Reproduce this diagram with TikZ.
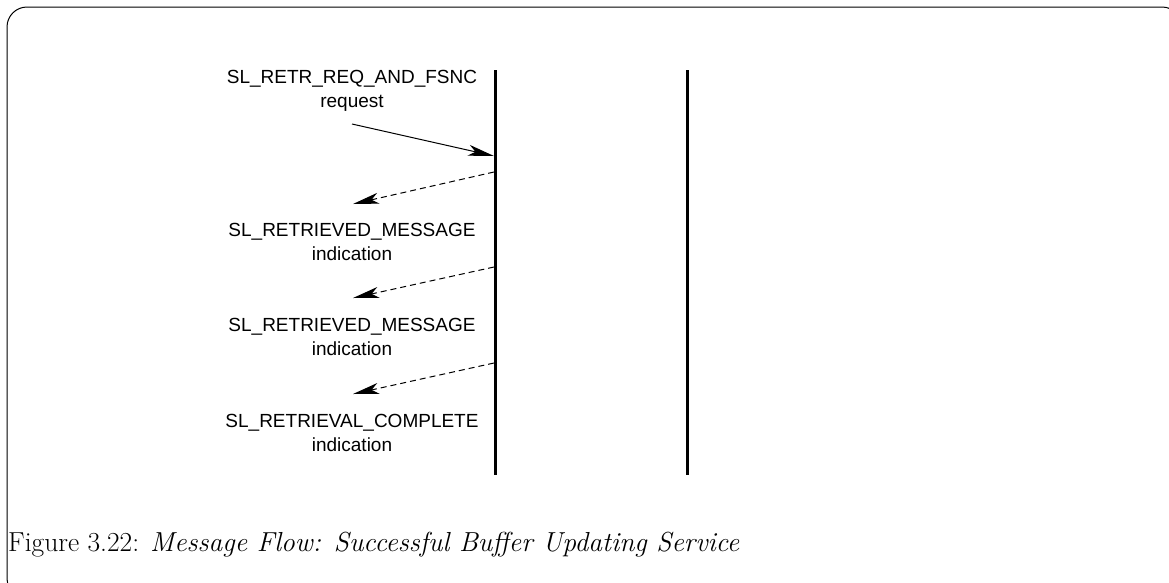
\documentclass[tikz,border=0pt]{standalone}
\usepackage{fontspec}
\newfontfamily\diagfont{Liberation Sans}
\usetikzlibrary{arrows.meta}
\tikzset{
  lbl/.style={font=\diagfont\fontsize{19}{24}\selectfont, align=center, inner sep=0pt},
  lifeline/.style={line width=3pt},
  msg/.style={line width=1pt, -{Stealth[length=26pt, width=11pt, inset=7pt]}},
  reply/.style={msg, dash pattern=on 6pt off 4pt},
  frame/.style={line width=1pt, rounded corners=20pt}
}
\begin{document}
\begin{tikzpicture}[x=1pt,y=-1pt]
\useasboundingbox (0,0) rectangle (1169,582);
\clip (0,0) rectangle (1169,582);
\draw[frame] (7,7) rectangle (1182,598);
% lifelines
\coordinate (l1top) at (495,70);
\coordinate (l1bot) at (495,475);
\coordinate (l2top) at (687,70);
\coordinate (l2bot) at (687,475);
\draw[lifeline] (l1top) -- (l1bot);
\draw[lifeline] (l2top) -- (l2bot);
% labels
\node[lbl] (req) at (352,91) {SL\_RETR\_REQ\_AND\_FSNC\\request};
\node[lbl] (ind1) at (352,242) {SL\_RETRIEVED\_MESSAGE\\indication};
\node[lbl] (ind2) at (352,337) {SL\_RETRIEVED\_MESSAGE\\indication};
\node[lbl] (ind3) at (352,433) {SL\_RETRIEVAL\_COMPLETE\\indication};
% message endpoints
\coordinate (a0) at (352,124);
\coordinate (b0) at (494,156);
\coordinate (a1) at (494,172);
\coordinate (b1) at (353,204);
\coordinate (a2) at (494,267);
\coordinate (b2) at (353,298);
\coordinate (a3) at (494,363);
\coordinate (b3) at (353,394);
\draw[msg] (a0) -- (b0);
\draw[reply] (a1) -- (b1);
\draw[reply] (a2) -- (b2);
\draw[reply] (a3) -- (b3);
% caption
\node[anchor=base west, inner sep=0pt, font=\fontsize{27.5}{31}\selectfont] (cap) at (8,551) {Figure 3.22: \textit{Message Flow: Successful Buffer Updating Service}};
\end{tikzpicture}
\end{document}
